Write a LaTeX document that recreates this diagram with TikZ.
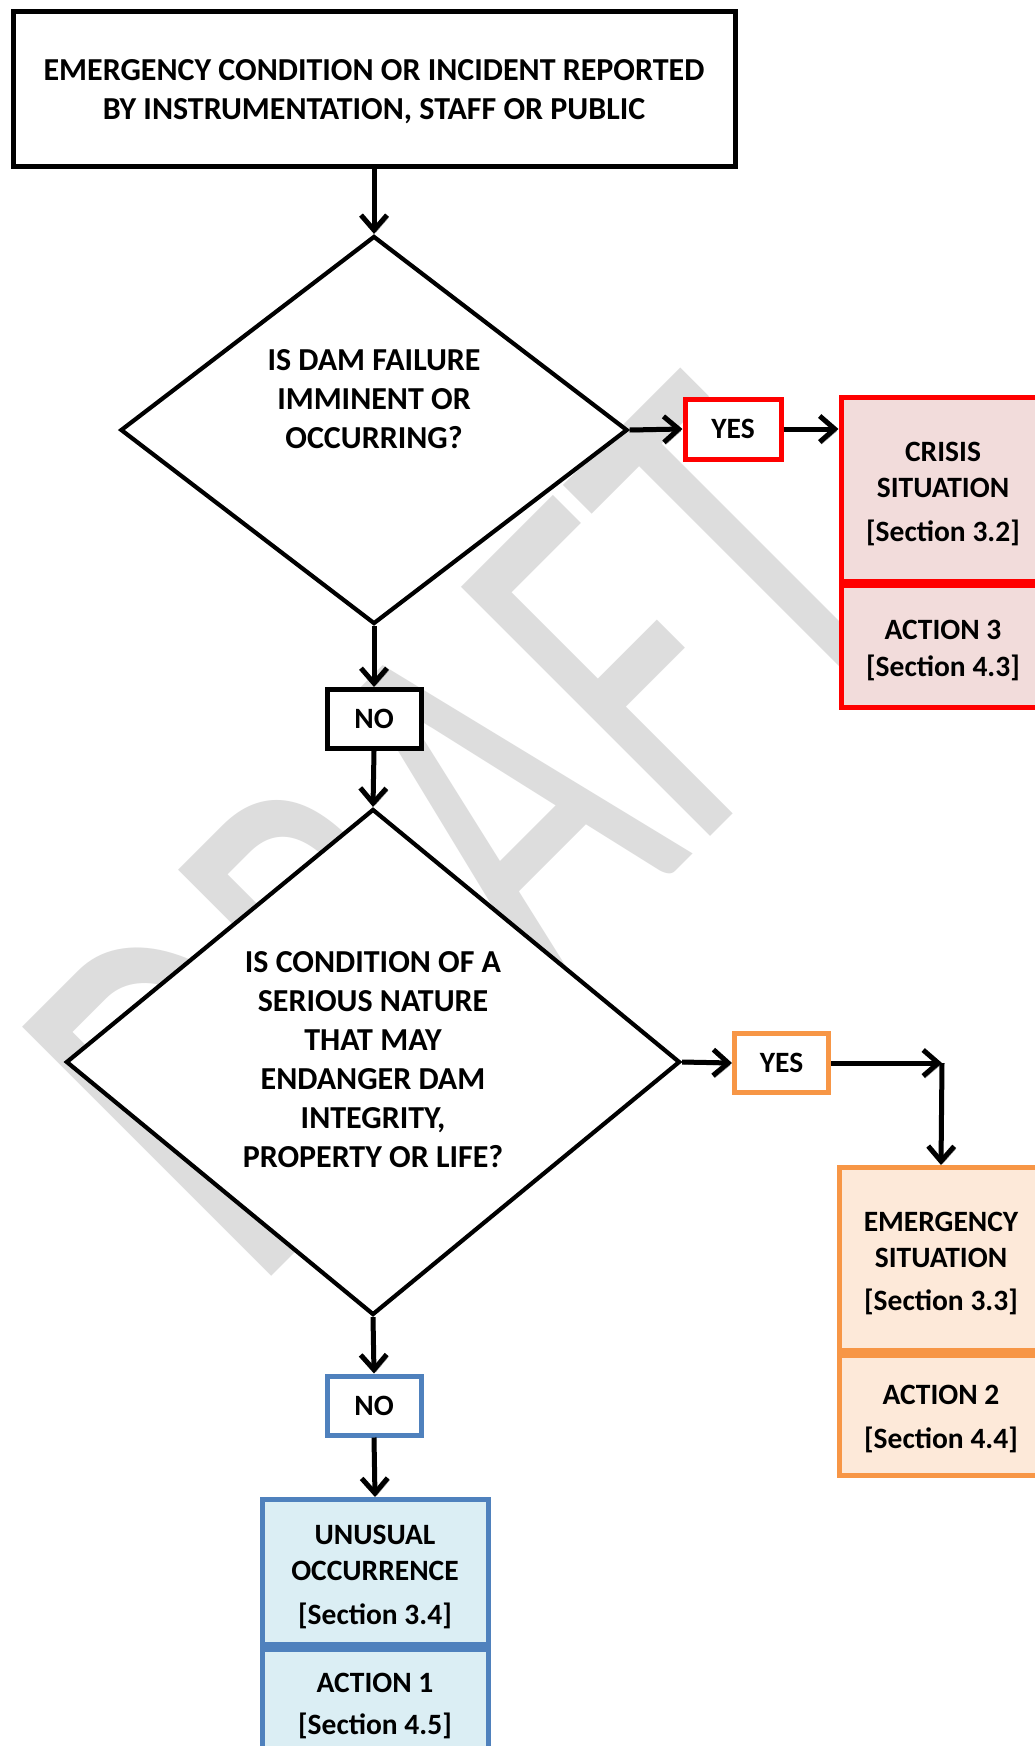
\documentclass[tikz,border=0pt]{standalone}
\usepackage{fontspec}
\setmainfont{Carlito}
\usetikzlibrary{arrows.meta,shapes.geometric}
\definecolor{wmgray}{RGB}{221,221,221}
\definecolor{cred}{RGB}{255,0,0}
\definecolor{credfill}{RGB}{242,220,219}
\definecolor{corange}{RGB}{247,150,70}
\definecolor{corangefill}{RGB}{253,233,217}
\definecolor{cblue}{RGB}{79,129,189}
\definecolor{cbluefill}{RGB}{219,238,244}
\definecolor{shadowgray}{RGB}{130,130,130}
\begin{document}
\begin{tikzpicture}[x=1pt,y=-1pt,
  bigtext/.style={font=\fontsize{32}{39}\selectfont\bfseries, align=center, inner sep=0pt},
  boxtext/.style={font=\fontsize{29.5}{36}\selectfont\bfseries, align=center, inner sep=0pt},
  box/.style={draw, line width=5pt, inner sep=0pt, fill=white},
  decision/.style={shape=diamond, draw, line width=4.2pt, fill=white, inner sep=0pt},
  arr/.style={line width=5pt, -{Straight Barb[length=15pt,width=26pt]},
    preaction={draw=shadowgray, transform canvas={shift={(1.8pt,-2.2pt)}}}},
  wm/.style={anchor=base west, inner sep=0pt, outer sep=0pt, text=wmgray,
    font=\fontsize{358}{358}\selectfont, rotate=45, yscale=1.534, transform shape}]
\fill[white] (0,0) rectangle (1035,1746);
\useasboundingbox (0,0) rectangle (1035,1746);

% watermark
\node[wm] (wmark) at (254,1293) {DRAFT};

% top box
\node[box, minimum width=722pt, minimum height=155pt] (top) at (374,89) {};
\node[bigtext] (toptext) at (374,91.5) {EMERGENCY CONDITION OR INCIDENT REPORTED\\BY INSTRUMENTATION, STAFF OR PUBLIC};

% decision 1
\node[decision, minimum width=507pt, minimum height=388pt] (d1) at (374,430) {};
\node[bigtext] (d1text) at (374,399) {IS DAM FAILURE\\IMMINENT OR\\OCCURRING?};

% yes 1 and crisis
\node[box, draw=cred, minimum width=96pt, minimum height=60pt, boxtext] (yes1) at (733,429) {YES};
\node[box, draw=cred, fill=credfill, minimum width=204pt, minimum height=184pt] (crisis) at (943,489.5) {};
\node[boxtext] (crisistext) at (943,494) {CRISIS\\SITUATION\\[8pt]{[Section 3.2]}};
\node[box, draw=cred, fill=credfill, minimum width=204pt, minimum height=122pt] (act3) at (943,646.5) {};
\node[boxtext] (act3text) at (943,650) {ACTION 3\\[1pt]{[Section 4.3]}};

% no 1
\node[box, minimum width=94pt, minimum height=59pt, boxtext] (no1) at (374,719) {NO};

% decision 2
\node[decision, minimum width=614pt, minimum height=506pt] (d2) at (373,1062) {};
\node[bigtext] (d2text) at (373,1059.5) {IS CONDITION OF A\\SERIOUS NATURE\\THAT MAY\\ENDANGER DAM\\INTEGRITY,\\PROPERTY OR LIFE?};

% yes 2 and emergency
\node[box, draw=corange, minimum width=94pt, minimum height=59pt, boxtext] (yes2) at (781.5,1063) {YES};
\node[box, draw=corange, fill=corangefill, minimum width=203pt, minimum height=183pt] (emerg) at (941,1259) {};
\node[boxtext] (emergtext) at (941,1263.5) {EMERGENCY\\SITUATION\\[7.5pt]{[Section 3.3]}};
\node[box, draw=corange, fill=corangefill, minimum width=203pt, minimum height=120pt] (act2) at (941,1415.5) {};
\node[boxtext] (act2text) at (941,1418.5) {ACTION 2\\[8pt]{[Section 4.4]}};

% no 2 and unusual
\node[box, draw=cblue, minimum width=94pt, minimum height=59pt, boxtext] (no2) at (374,1405.5) {NO};
\node[box, draw=cblue, fill=cbluefill, minimum width=226pt, minimum height=145pt] (unus) at (375,1572) {};
\node[boxtext] (unustext) at (375,1576.5) {UNUSUAL\\OCCURRENCE\\[8pt]{[Section 3.4]}};
\node[box, draw=cblue, fill=cbluefill, minimum width=226pt, minimum height=138pt] (act1) at (375,1718.5) {};
\node[boxtext] (act1text) at (375,1706) {ACTION 1\\[6.5pt]{[Section 4.5]}};

% connectors
\coordinate (corner) at (942,1063);
\draw[arr] (top.south) -- (d1.north);
\draw[arr] (d1.east) -- (yes1.west);
\draw[arr] (yes1.east) -- (yes1.east -| crisis.west);
\draw[arr] (d1.south) -- (no1.north);
\draw[arr] (no1.south) -- (d2.north);
\draw[arr] (d2.east) -- (yes2.west);
\draw[arr] (yes2.east) -- (corner);
\draw[arr] (corner) -- (emerg.north);
\draw[arr] (d2.south) -- (no2.north);
\draw[arr] (no2.south) -- (unus.north);
\end{tikzpicture}
\end{document}
